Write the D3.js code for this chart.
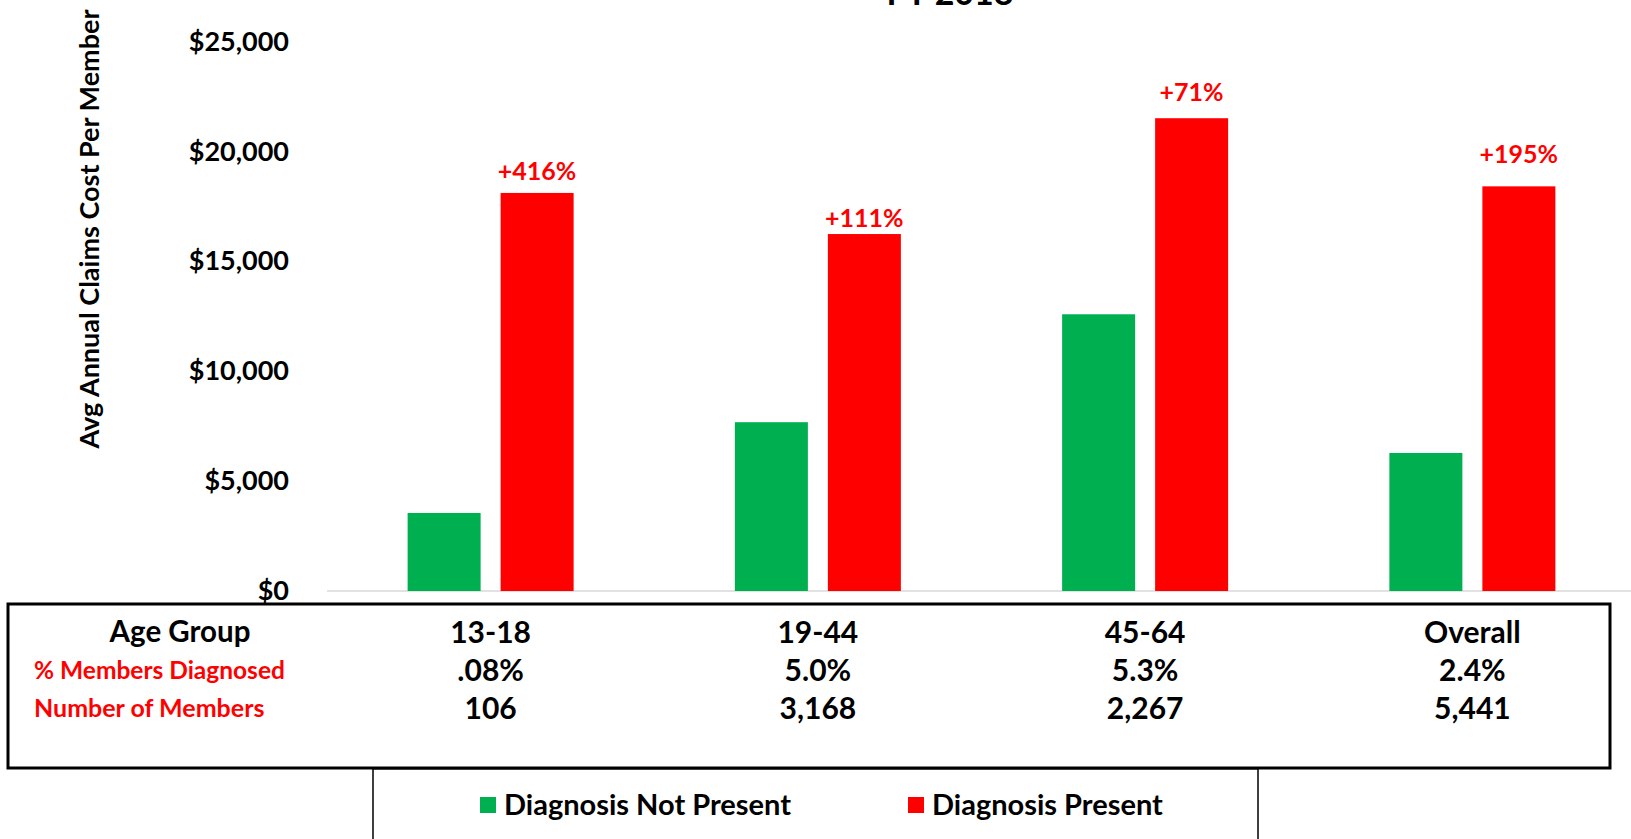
<!DOCTYPE html>
<meta charset="utf-8">
<script src="https://d3js.org/d3.v7.min.js"></script>
<style>
  body { margin: 0; background: white; }
  text { font-family: "Lato", "Open Sans", sans-serif; font-weight: bold; }
</style>
<body>
<div id="chart"></div>
<script>
  // chart values
  var categories = ["13-18", "19-44", "45-64", "Overall"];
  var series = ["Diagnosis Not Present", "Diagnosis Present"];
  var notPresent = [3550, 7680, 12590, 6280];
  var present = [18110, 16240, 21510, 18410];
  var pctLabels = ["+416%", "+111%", "+71%", "+195%"];
  var pctDiagnosed = [".08%", "5.0%", "5.3%", "2.4%"];
  var memberCounts = ["106", "3,168", "2,267", "5,441"];
  var yTicks = [0, 5000, 10000, 15000, 20000, 25000];
  var colors = ["#00b050", "#ff0000"];

  var width = 1631, height = 839;

  var svg = d3.select("#chart").append("svg")
    .attr("width", width)
    .attr("height", height);

  svg.append("rect").attr("width", width).attr("height", height).attr("fill", "white");

  var x0 = d3.scaleBand().domain(categories).range([327, 1636]);
  var x1 = d3.scaleBand().domain(series)
    .range([x0.bandwidth() / 2 - 83, x0.bandwidth() / 2 + 83])
    .paddingInner(0.215);
  var y = d3.scaleLinear().domain([0, 25000]).range([591, 41.5]);

  // title (cut off at top in the original)
  svg.append("text")
    .attr("x", 950).attr("y", 5)
    .attr("text-anchor", "middle")
    .style("font-size", "34px")
    .text("FY 2018");

  // y axis
  var yAxis = svg.append("g")
    .attr("transform", "translate(327,0)")
    .call(d3.axisLeft(y).tickValues(yTicks).tickSize(0).tickPadding(38)
      .tickFormat(function(d) { return "$" + d3.format(",")(d); }));
  yAxis.select(".domain").remove();
  yAxis.selectAll("text")
    .style("font-family", "Lato, 'Open Sans', sans-serif")
    .style("font-weight", "bold")
    .style("font-size", "27px")
    .attr("fill", "black");

  svg.append("text")
    .attr("transform", "translate(99,229) rotate(-90)")
    .attr("text-anchor", "middle")
    .style("font-size", "27px")
    .text("Avg Annual Claims Cost Per Member");

  // baseline
  svg.append("line")
    .attr("x1", 327).attr("x2", width)
    .attr("y1", y(0)).attr("y2", y(0))
    .attr("stroke", "#d9d9d9").attr("stroke-width", 1.5);

  // bars
  var rows = categories.map(function(c, i) {
    return { cat: c, values: [notPresent[i], present[i]] };
  });

  var groups = svg.append("g").selectAll("g")
    .data(rows).enter().append("g")
    .attr("transform", function(d) { return "translate(" + x0(d.cat) + ",0)"; });

  groups.selectAll("rect")
    .data(function(d) { return d.values.map(function(v, j) { return { s: series[j], v: v, j: j }; }); })
    .enter().append("rect")
    .attr("x", function(d) { return x1(d.s); })
    .attr("width", x1.bandwidth())
    .attr("y", function(d) { return y(d.v); })
    .attr("height", function(d) { return y(0) - y(d.v); })
    .attr("fill", function(d) { return colors[d.j]; });

  // percent labels above red bars (hand-nudged like the original)
  var labelLift = [13, 7, 17, 23];
  svg.append("g").selectAll("text")
    .data(categories).enter().append("text")
    .attr("x", function(c) { return x0(c) + x1(series[1]) + x1.bandwidth() / 2; })
    .attr("y", function(c, i) { return y(present[i]) - labelLift[i]; })
    .attr("text-anchor", "middle")
    .attr("fill", "#ff0000")
    .style("font-size", "25px")
    .text(function(c, i) { return pctLabels[i]; });

  // data table
  svg.append("rect")
    .attr("x", 8).attr("y", 604).attr("width", 1602).attr("height", 164)
    .attr("fill", "none").attr("stroke", "black").attr("stroke-width", 3);

  var rowY = [632, 670, 708];
  svg.append("text")
    .attr("x", 180).attr("y", rowY[0]).attr("dy", "0.35em")
    .attr("text-anchor", "middle")
    .style("font-size", "29.5px")
    .text("Age Group");
  svg.append("text")
    .attr("x", 34).attr("y", rowY[1]).attr("dy", "0.35em")
    .attr("fill", "#ff0000")
    .style("font-size", "24.5px")
    .text("% Members Diagnosed");
  svg.append("text")
    .attr("x", 34).attr("y", rowY[2]).attr("dy", "0.35em")
    .attr("fill", "#ff0000")
    .style("font-size", "25px")
    .text("Number of Members");

  [categories, pctDiagnosed, memberCounts].forEach(function(arr, r) {
    svg.append("g").selectAll("text")
      .data(arr).enter().append("text")
      .attr("x", function(d, i) { return x0(categories[i]) + x0.bandwidth() / 2; })
      .attr("y", rowY[r]).attr("dy", "0.35em")
      .attr("text-anchor", "middle")
      .style("font-size", "30px")
      .text(function(d) { return d; });
  });

  // legend
  svg.append("rect")
    .attr("x", 373).attr("y", 769).attr("width", 885).attr("height", 90)
    .attr("fill", "white").attr("stroke", "black").attr("stroke-width", 1.5);

  var legendX = [480, 908];
  var leg = svg.append("g").selectAll("g")
    .data(series).enter().append("g")
    .attr("transform", function(d, i) { return "translate(" + legendX[i] + ",797)"; });
  leg.append("rect")
    .attr("width", 16).attr("height", 16)
    .attr("fill", function(d, i) { return colors[i]; });
  leg.append("text")
    .attr("x", 24).attr("y", 8).attr("dy", "0.35em")
    .style("font-size", "29px")
    .text(function(d) { return d; });
</script>
</body>
